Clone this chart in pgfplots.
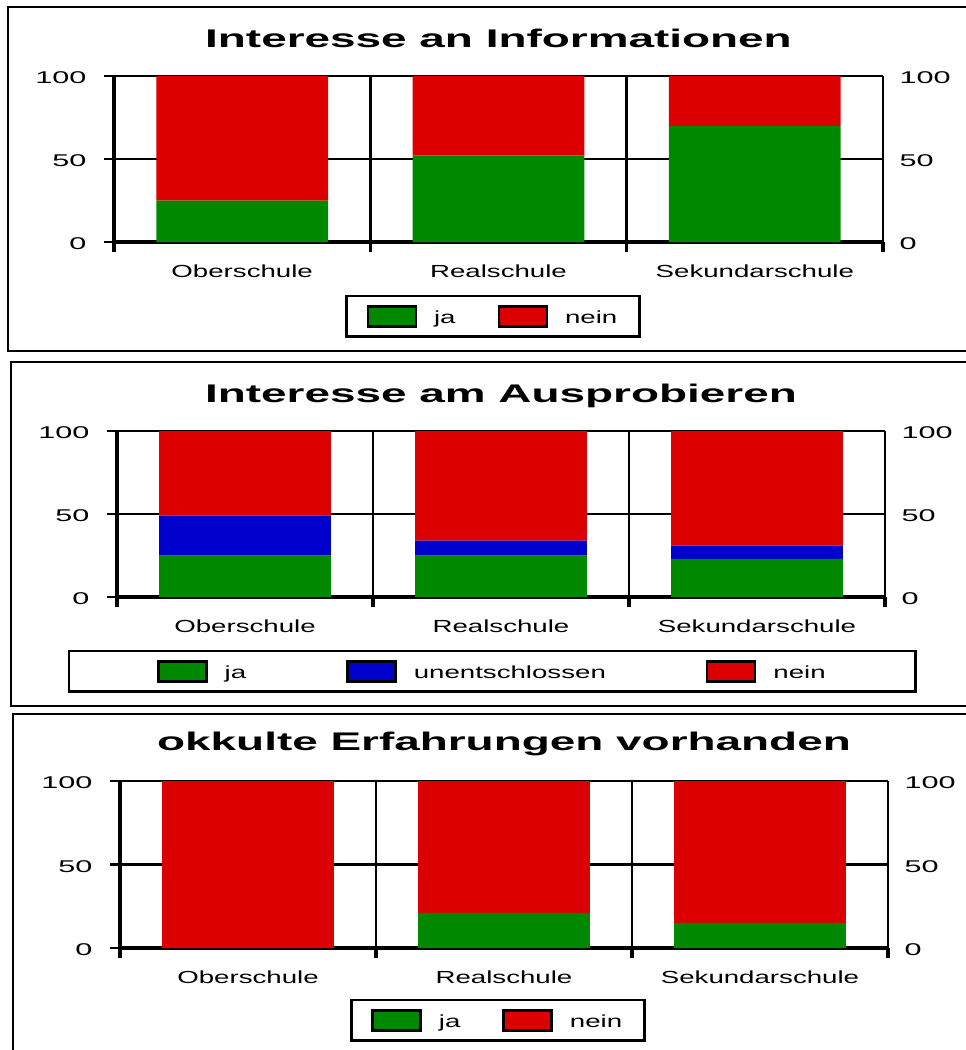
\documentclass[border=0pt]{standalone}
\usepackage{fontspec}
\setmainfont{Liberation Sans}
\newfontfamily\titlefam[FakeStretch=1.8]{Liberation Sans}
\newfontfamily\tickfam[FakeStretch=1.8]{Liberation Sans}
\newfontfamily\catfam[FakeStretch=1.58]{Liberation Sans}
\usepackage{pgfplots}
\pgfplotsset{compat=1.18}

\definecolor{ja}{RGB}{0,136,0}
\definecolor{nein}{RGB}{221,0,0}
\definecolor{unent}{RGB}{0,0,204}

\pgfplotsset{
  panel/.style={
    width=769pt, height=166pt, scale only axis,
    anchor=south west,
    xmin=0, xmax=3, ymin=0, ymax=100,
    ybar stacked, bar width=0.67,
    axis x line*=bottom, axis y line*=left,
    axis line style={-, line width=3.5pt},
    xtick={0.5,1.5,2.5},
    xticklabels={Oberschule,Realschule,Sekundarschule},
    xtick style={draw=none},
    extra x ticks={0,1,2,3}, extra x tick labels={},
    extra x tick style={grid=major, xtick style={draw=black, line width=3.5pt}},
    ytick={0,50,100}, ymajorgrids,
    grid style={black, line width=2.5pt},
    tick align=outside, major tick length=10pt,
    ytick style={black, line width=2.5pt},
    /pgf/number format/assume math mode=true,
    yticklabel style={font=\tickfam\fontsize{17}{20}\selectfont, xshift=-14pt, yshift=-2pt},
    xticklabel style={font=\catfam\fontsize{17.5}{20}\selectfont, anchor=base, yshift=-25pt},
    title style={font=\titlefam\bfseries\fontsize{25.5}{28}\selectfont, at={(0.5,1)}, anchor=base, yshift=23pt},
    legend style={draw=black, line width=2.5pt, inner xsep=20pt, inner ysep=9pt,
      font=\catfam\fontsize{17.5}{20}\selectfont, anchor=north, legend columns=-1,
      /tikz/every odd column/.append style={column sep=15pt},
      /tikz/every even column/.append style={column sep=40pt}},
  },
  rightax/.style={
    width=769pt, height=166pt, scale only axis,
    anchor=south west,
    xmin=0, xmax=3, ymin=0, ymax=100,
    axis x line=none, axis y line*=right,
    axis line style={-, line width=2pt},
    ytick={0,50,100}, ytick style={draw=none},
    /pgf/number format/assume math mode=true,
    yticklabel style={font=\tickfam\fontsize{17}{20}\selectfont, anchor=west, xshift=13pt, yshift=-2pt},
  },
  sw/.style={fill=#1, draw=none,
    legend image code/.code={\draw[fill=#1, draw=black, line width=2.5pt] (0pt,-8.5pt) rectangle (48pt,11.5pt);}},
}

\begin{document}
\begin{tikzpicture}
\useasboundingbox (0,0) rectangle (966pt,-1050pt);

% Rahmen
\draw[line width=2pt] (975pt,-7pt) -- (8pt,-7pt) -- (8pt,-351pt) -- (975pt,-351pt);
\draw[line width=2pt] (975pt,-362pt) -- (11pt,-362pt) -- (11pt,-706pt) -- (975pt,-706pt);
\draw[line width=2pt] (975pt,-714pt) -- (13pt,-714pt) -- (13pt,-1060pt);

% 1
\begin{axis}[panel, at={(114pt,-242pt)}, width=769pt,
  title={Interesse an Informationen},
  legend style={at={(0.4928,-0.319)}}]
\addplot[sw=ja] coordinates {(0.5,25) (1.5,52) (2.5,70)};
\addplot[sw=nein] coordinates {(0.5,75) (1.5,48) (2.5,30)};
\legend{ja,nein}
\end{axis}
\begin{axis}[rightax, at={(114pt,-242pt)}, width=769pt]
\addplot[draw=none] coordinates {(0,0) (3,100)};
\end{axis}

% 2
\begin{axis}[panel, at={(117pt,-597pt)}, width=768pt,
  title={Interesse am Ausprobieren},
  legend style={at={(0.4928,-0.319)}, xshift=-3pt, inner xsep=88pt,
    /tikz/every even column/.append style={column sep=98pt}}]
\addplot[sw=ja] coordinates {(0.5,25) (1.5,25) (2.5,23)};
\addplot[sw=unent] coordinates {(0.5,24) (1.5,9) (2.5,8)};
\addplot[sw=nein] coordinates {(0.5,51) (1.5,66) (2.5,69)};
\legend{ja,unentschlossen,nein}
\end{axis}
\begin{axis}[rightax, at={(117pt,-597pt)}, width=768pt]
\addplot[draw=none] coordinates {(0,0) (3,100)};
\end{axis}

% 3
\begin{axis}[panel, at={(120pt,-948pt)}, width=768pt, height=167pt,
  title={okkulte Erfahrungen vorhanden},
  title style={yshift=2pt},
  legend style={at={(0.492,-0.305)}}]
\addplot[sw=ja] coordinates {(0.5,0) (1.5,21) (2.5,15)};
\addplot[sw=nein] coordinates {(0.5,100) (1.5,79) (2.5,85)};
\legend{ja,nein}
\end{axis}
\begin{axis}[rightax, at={(120pt,-948pt)}, width=768pt, height=167pt]
\addplot[draw=none] coordinates {(0,0) (3,100)};
\end{axis}
\end{tikzpicture}
\end{document}
